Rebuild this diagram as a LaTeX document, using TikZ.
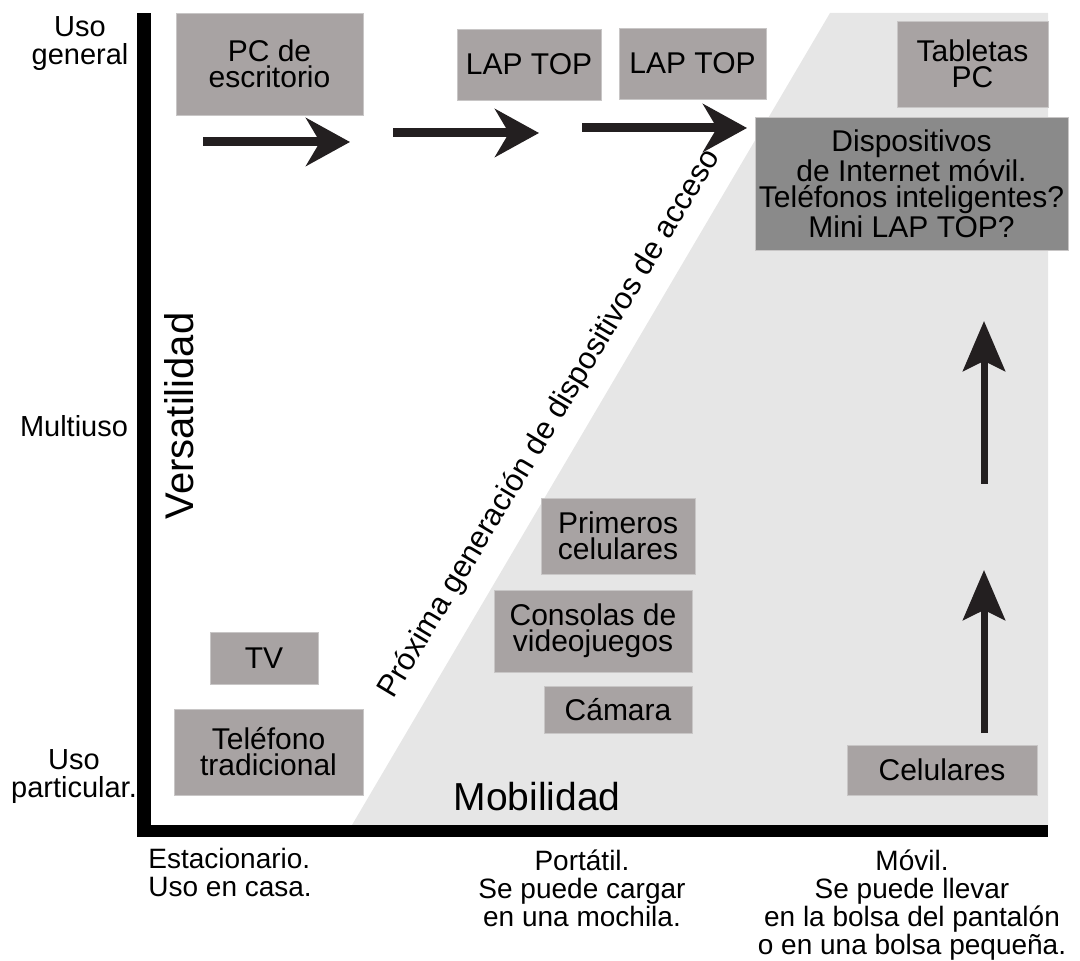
\documentclass[tikz,border=0pt]{standalone}
\usepackage{fontspec}
\setmainfont{Liberation Sans}
\usepackage{xcolor}
\usetikzlibrary{arrows.meta}

\definecolor{cajagris}{RGB}{168,163,163}
\definecolor{cajaborde}{RGB}{200,198,198}
\definecolor{cajaoscura}{RGB}{138,138,138}
\definecolor{zonagris}{RGB}{230,230,230}
\definecolor{flechanegro}{RGB}{35,31,32}

\begin{document}
\begin{tikzpicture}[
    x=0.5pt, y=-0.5pt,
    caja/.style={fill=cajagris, draw=cajaborde, line width=0.4pt, inner sep=0pt,
                 align=center, font=\fontsize{15}{13}\selectfont},
    etiqueta/.style={inner sep=0pt, align=center, font=\fontsize{14.5}{14}\selectfont},
    flecha/.style={flechanegro, line width=4.5pt,
                   -{Stealth[length=22pt, width=24pt, inset=7pt]}},
    flechav/.style={flechanegro, line width=3.5pt,
                    -{Stealth[length=25pt, width=21pt, inset=5pt]}}
  ]
    \useasboundingbox (0,0) rectangle (1080,961);

    % zona de movilidad
    \fill[zonagris] (352,825) -- (830,13) -- (1048,13) -- (1048,825) -- cycle;

    % ejes
    \fill[black] (137,13) rectangle (151,837);
    \fill[black] (137,825) rectangle (1048,837);

    % cajas
    \node[caja, minimum width=93.5pt, minimum height=51pt] (pc) at (269.5,64) {PC de\\escritorio};
    \node[caja, minimum width=72pt, minimum height=35.5pt] (lap1) at (529,64.5) {LAP TOP};
    \node[caja, minimum width=73.5pt, minimum height=35.5pt] (lap2) at (692.5,63.5) {LAP TOP};
    \node[caja, minimum width=75.5pt, minimum height=43pt] (tableta) at (972.5,64) {Tabletas\\PC};
    \node[caja, fill=cajaoscura, minimum width=156.5pt, minimum height=66.5pt] (disp) at (911.5,183.5)
        {Dispositivos\\de Internet móvil.\\Teléfonos inteligentes?\\Mini LAP TOP?};
    \node[caja, minimum width=77pt, minimum height=38pt] (primeros) at (618,536) {Primeros\\celulares};
    \node[caja, minimum width=99pt, minimum height=41pt] (consola) at (593,631) {Consolas de\\videojuegos};
    \node[caja, minimum width=74pt, minimum height=23.5pt] (camara) at (618,709.5) {Cámara};
    \node[caja, minimum width=54pt, minimum height=26pt] (tv) at (264,658) {TV};
    \node[caja, minimum width=94.5pt, minimum height=43pt] (telefono) at (268.5,752) {Teléfono\\tradicional};
    \node[caja, minimum width=95pt, minimum height=25pt] (celular) at (942,770) {Celulares};

    % flechas
    \coordinate (h1a) at (203,142);  \coordinate (h1b) at (350,142);
    \coordinate (h2a) at (393,133);  \coordinate (h2b) at (539,133);
    \coordinate (h3a) at (582,128);  \coordinate (h3b) at (747,128);
    \coordinate (v1a) at (984,733);  \coordinate (v1b) at (984,570);
    \coordinate (v2a) at (984,484);  \coordinate (v2b) at (984,321);
    \draw[flecha] (h1a) -- (h1b);
    \draw[flecha] (h2a) -- (h2b);
    \draw[flecha] (h3a) -- (h3b);
    \draw[flechav] (v1a) -- (v1b);
    \draw[flechav] (v2a) -- (v2b);

    % textos de los ejes
    \node[etiqueta] (usogen) at (80,44) {Uso\\general};
    \node[etiqueta, anchor=base] (multi) at (74,437) {Multiuso};
    \node[etiqueta] (usopart) at (74,777) {Uso\\particular.};
    \node[inner sep=0pt, anchor=base, rotate=90, font=\fontsize{20}{20}\selectfont] (versa) at (193,416) {Versatilidad};
    \node[inner sep=0pt, anchor=base, font=\fontsize{19.5}{20}\selectfont] (mobi) at (537,810) {Mobilidad};
    \node[inner sep=0pt, rotate=59, font=\fontsize{15.4}{16}\selectfont] (proxima) at (550,424)
        {Próxima generación de dispositivos de acceso};
    \node[etiqueta, align=left, anchor=north west, font=\fontsize{14}{14}\selectfont] (estac) at (148,848)
        {Estacionario.\\Uso en casa.};
    \node[etiqueta, anchor=north, font=\fontsize{14}{14}\selectfont] (portatil) at (582,849)
        {Portátil.\\Se puede cargar\\en una mochila.};
    \node[etiqueta, anchor=north, font=\fontsize{14}{14}\selectfont] (movil) at (912,849)
        {Móvil.\\Se puede llevar\\en la bolsa del pantalón\\o en una bolsa pequeña.};
  \end{tikzpicture}
\end{document}
